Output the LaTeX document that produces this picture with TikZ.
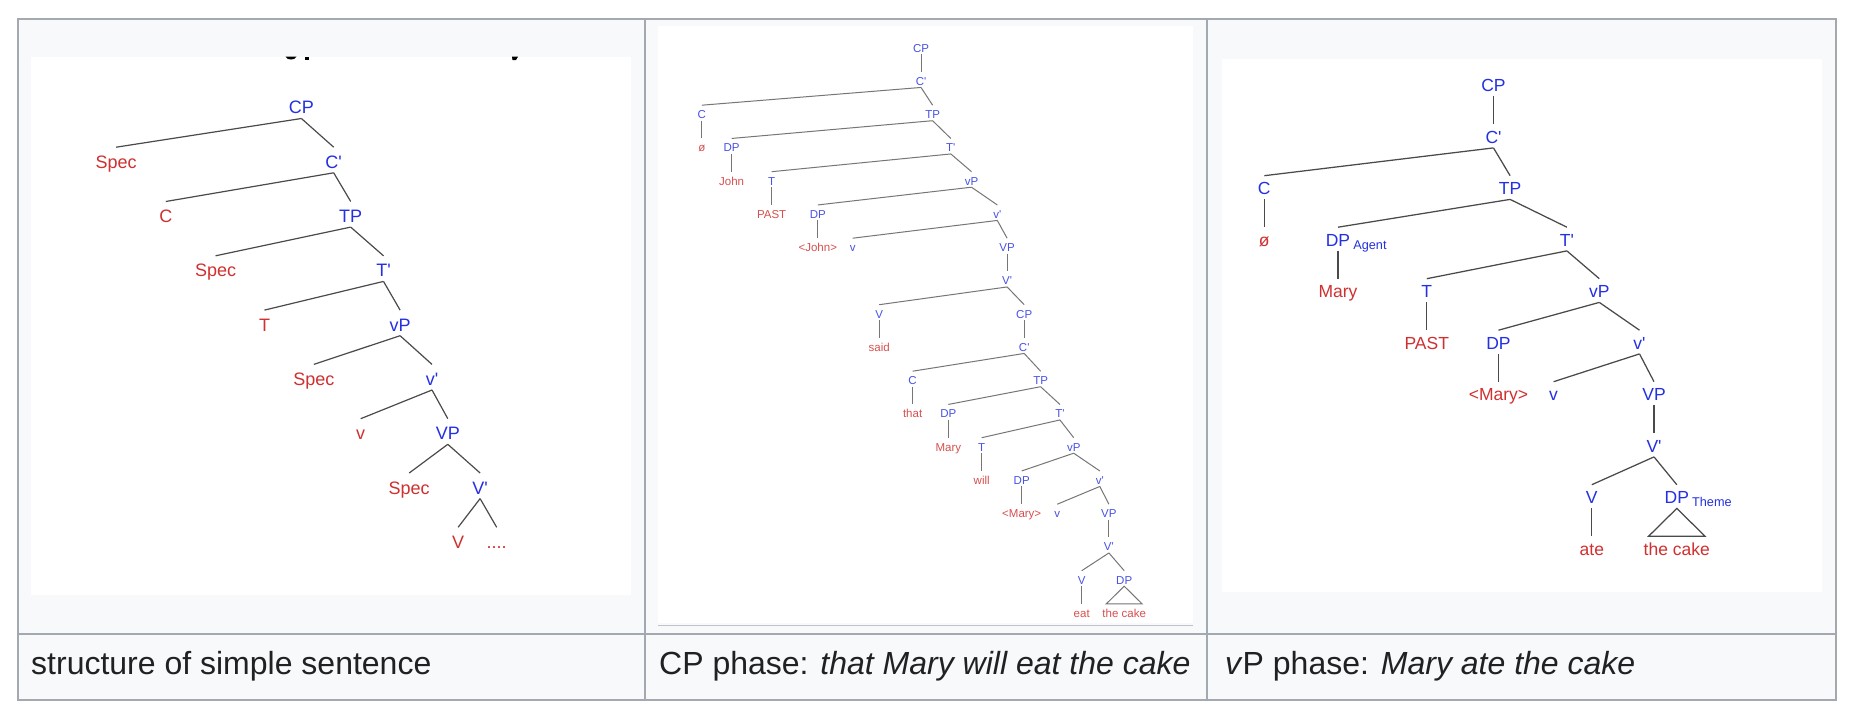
\documentclass[tikz,border=0pt]{standalone}
\usepackage{fontspec}
\setmainfont{Liberation Sans}
\newfontfamily\sy{Liberation Sans}
\usetikzlibrary{calc}
\definecolor{tblborder}{HTML}{A2A9B1}
\definecolor{cellbg}{HTML}{F8F9FA}
\definecolor{capt}{HTML}{202122}
\definecolor{synblue}{RGB}{36,48,226}
\definecolor{synred}{RGB}{208,48,48}
\definecolor{synblueL}{RGB}{72,82,230}
\definecolor{synredL}{RGB}{214,80,80}
\definecolor{edgeA}{HTML}{4A4A4A}
\definecolor{edgeB}{HTML}{767676}
\begin{document}
\begin{tikzpicture}[x=1pt,y=-1pt,
  ta/.style={anchor=base,inner sep=0pt,outer sep=0pt,font=\sy\fontsize{18}{21}\selectfont,text height=21pt,text depth=4.6pt},
  tb/.style={anchor=base,inner sep=0pt,outer sep=0pt,font=\sy\fontsize{11.5}{13}\selectfont,text height=13.5pt,text depth=2pt},
  tc/.style={anchor=base,inner sep=0pt,outer sep=0pt,font=\sy\fontsize{17.5}{20}\selectfont,text height=19.2pt,text depth=4.5pt},
  bl/.style={text=synblue}, rd/.style={text=synred},
  blL/.style={text=synblueL}, rdL/.style={text=synredL},
  ea/.style={draw=edgeA,line width=1.2pt},
  eb/.style={draw=edgeB,line width=1pt},
  ec/.style={draw=edgeA,line width=1.25pt},
  captxt/.style={anchor=base west,inner sep=0pt,font=\fontsize{32}{38}\selectfont,text=capt},
  subs/.style={anchor=base west,inner sep=0pt,font=\sy\fontsize{12.7}{14}\selectfont,text=synblue}
]
\useasboundingbox (0,0) rectangle (1850,720);
\fill[white] (0,0) rectangle (1850,720);
% table
\fill[cellbg] (17.5,19) rectangle (1836,700);
\fill[white] (31,56.7) rectangle (631,594.6);
\fill[white] (658,26) rectangle (1193,623);
\fill[white] (1221.6,58.8) rectangle (1822,592.3);
\draw[tblborder!70,line width=1pt] (658,625) -- (1193,625);
\draw[tblborder,line width=2pt] (17.5,19) rectangle (1836,700);
\draw[tblborder,line width=2pt] (644.5,19) -- (644.5,700);
\draw[tblborder,line width=2pt] (1207,19) -- (1207,700);
\draw[tblborder,line width=2pt] (17.5,633.5) -- (1836,633.5);
% cut-off text fragments at top of first picture
\fill[black] (285.5,56.7) .. controls (287,60.5) and (295,60.5) .. (296.5,56.7) -- cycle;
\fill[black] (305,56.7) rectangle (309,60);
\fill[black] (512,56.7) -- (518,56.7) -- (516,60) -- (512.5,60) -- cycle;

% ---------- panel 1 ----------
\node[ta,bl] (a0) at (301.4,113.9) {CP};
\node[ta,rd] (a1) at (116.1,168.2) {Spec};
\node[ta,bl] (a2) at (333.7,168.2) {C'};
\node[ta,rd] (a3) at (165.8,222.5) {C};
\node[ta,bl] (a4) at (350.7,222.5) {TP};
\node[ta,rd] (a5) at (215.6,276.8) {Spec};
\node[ta,bl] (a6) at (383.5,276.8) {T'};
\node[ta,rd] (a7) at (264.5,331.1) {T};
\node[ta,bl] (a8) at (400.1,331.1) {vP};
\node[ta,rd] (a9) at (313.8,385.4) {Spec};
\node[ta,bl] (a10) at (432,385.4) {v'};
\node[ta,rd] (a11) at (360.7,439.7) {v};
\node[ta,bl] (a12) at (447.8,439.7) {VP};
\node[ta,rd] (a13) at (409.2,494) {Spec};
\node[ta,bl] (a14) at (480.1,494) {V'};
\node[ta,rd] (a15) at (458.1,548.3) {V};
\node[ta,rd] (a16) at (496.7,548.3) {....};
\foreach \p/\c in {a0/a1,a0/a2,a2/a3,a2/a4,a4/a5,a4/a6,a6/a7,a6/a8,a8/a9,a8/a10,a10/a11,a10/a12,a12/a13,a12/a14,a14/a15,a14/a16}
  \draw[ea] (\p.south) -- (\c.north);

% ---------- panel 2 ----------
\node[tb,blL] (b0) at (921,52.2) {CP};
\node[tb,blL] (b1) at (921,85.45) {C'};
\node[tb,blL] (b2) at (701.8,118.7) {C};
\node[tb,blL] (b3) at (932.6,118.7) {TP};
\node[tb,rdL] (b4) at (701.8,151.95) {ø};
\node[tb,blL] (b5) at (731.6,151.95) {DP};
\node[tb,blL] (b6) at (950.8,151.95) {T'};
\node[tb,rdL] (b7) at (731.6,185.2) {John};
\node[tb,blL] (b8) at (771.6,185.2) {T};
\node[tb,blL] (b9) at (971.5,185.2) {vP};
\node[tb,rdL] (b10) at (771.6,218.45) {PAST};
\node[tb,blL] (b11) at (817.8,218.45) {DP};
\node[tb,blL] (b12) at (997.3,218.45) {v'};
\node[tb,rdL] (b13) at (817.8,251.7) {<John>};
\node[tb,blL] (b14) at (852.7,251.7) {v};
\node[tb,blL] (b15) at (1007.1,251.7) {VP};
\node[tb,blL] (b16) at (1007.1,284.95) {V'};
\node[tb,blL] (b17) at (879.2,318.2) {V};
\node[tb,blL] (b18) at (1024.2,318.2) {CP};
\node[tb,rdL] (b19) at (879.2,351.45) {said};
\node[tb,blL] (b20) at (1024.2,351.45) {C'};
\node[tb,blL] (b21) at (912.6,384.7) {C};
\node[tb,blL] (b22) at (1040.6,384.7) {TP};
\node[tb,rdL] (b23) at (912.6,417.95) {that};
\node[tb,blL] (b24) at (948.3,417.95) {DP};
\node[tb,blL] (b25) at (1059.9,417.95) {T'};
\node[tb,rdL] (b26) at (948.3,451.2) {Mary};
\node[tb,blL] (b27) at (981.7,451.2) {T};
\node[tb,blL] (b28) at (1073.7,451.2) {vP};
\node[tb,rdL] (b29) at (981.7,484.45) {will};
\node[tb,blL] (b30) at (1021.7,484.45) {DP};
\node[tb,blL] (b31) at (1099.8,484.45) {v'};
\node[tb,rdL] (b32) at (1021.7,517.7) {<Mary>};
\node[tb,blL] (b33) at (1057.3,517.7) {v};
\node[tb,blL] (b34) at (1108.9,517.7) {VP};
\node[tb,blL] (b35) at (1108.9,550.95) {V'};
\node[tb,blL] (b36) at (1081.7,584.2) {V};
\node[tb,blL] (b37) at (1124.2,584.2) {DP};
\node[tb,rdL] (b38) at (1081.7,617.45) {eat};
\node[tb,rdL] (b39) at (1124.2,617.45) {the cake};
\foreach \p/\c in {b0/b1,b1/b2,b1/b3,b2/b4,b3/b5,b3/b6,b5/b7,b6/b8,b6/b9,b8/b10,b9/b11,b9/b12,b11/b13,b12/b14,b12/b15,b15/b16,b16/b17,b16/b18,b17/b19,b18/b20,b20/b21,b20/b22,b21/b23,b22/b24,b22/b25,b24/b26,b25/b27,b25/b28,b27/b29,b28/b30,b28/b31,b30/b32,b31/b33,b31/b34,b34/b35,b35/b36,b35/b37,b36/b38}
  \draw[eb] (\p.south) -- (\c.north);
\draw[eb,line join=miter] (b37.south) -- ($(b39.north)+(-18,0)$) -- ($(b39.north)+(18,0)$) -- cycle;

% ---------- panel 3 ----------
\node[tc,bl] (c0) at (1493.5,91.9) {CP};
\node[tc,bl] (c1) at (1493.5,143.4) {C'};
\node[tc,bl] (c2) at (1264.3,194.9) {C};
\node[tc,bl] (c3) at (1510.1,194.9) {TP};
\node[tc,rd] (c4) at (1264.3,246.4) {ø};
\node[tc,bl] (c5) at (1338,246.4) {DP};
\node[tc,bl] (c6) at (1566.9,246.4) {T'};
\node[tc,rd] (c7) at (1338,297.9) {Mary};
\node[tc,bl] (c8) at (1426.8,297.9) {T};
\node[tc,bl] (c9) at (1599.3,297.9) {vP};
\node[tc,rd] (c10) at (1426.8,349.4) {PAST};
\node[tc,bl] (c11) at (1498.5,349.4) {DP};
\node[tc,bl] (c12) at (1639.5,349.4) {v'};
\node[tc,rd] (c13) at (1498.5,400.9) {<Mary>};
\node[tc,bl] (c14) at (1553.6,400.9) {v};
\node[tc,bl] (c15) at (1654,400.9) {VP};
\node[tc,bl] (c16) at (1654,452.4) {V'};
\node[tc,bl] (c17) at (1591.8,503.9) {V};
\node[tc,bl] (c18) at (1676.8,503.9) {DP};
\node[tc,rd] (c19) at (1591.8,555.4) {ate};
\node[tc,rd] (c20) at (1676.8,555.4) {the cake};
\node[subs] (c5s) at ($(c5.base east)+(3,3)$) {Agent};
\node[subs] (c18s) at ($(c18.base east)+(3,3)$) {Theme};
\foreach \p/\c in {c0/c1,c1/c2,c1/c3,c2/c4,c3/c5,c3/c6,c5/c7,c6/c8,c6/c9,c8/c10,c9/c11,c9/c12,c11/c13,c12/c14,c12/c15,c15/c16,c16/c17,c16/c18,c17/c19}
  \draw[ec] (\p.south) -- (\c.north);
\draw[ec,line join=miter] (c18.south) -- ($(c20.north)+(-28.2,0)$) -- ($(c20.north)+(28.2,0)$) -- cycle;

% ---------- captions ----------
\node[captxt] (cap1) at (31,674) {structure of simple sentence};
\node[captxt] (cap2) at (659,674) {CP phase: \textit{that Mary will eat the cake}};
\node[captxt] (cap3) at (1225,674) {\textit{v}P phase: \textit{Mary ate the cake}};
\end{tikzpicture}
\end{document}
